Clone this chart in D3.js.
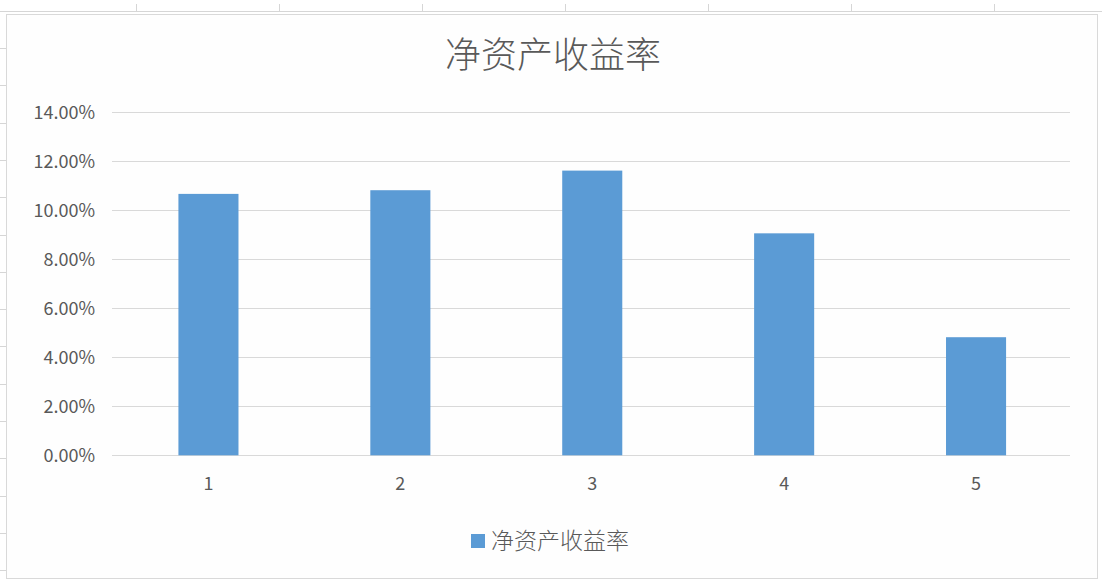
<!DOCTYPE html>
<html>
<head>
<meta charset="utf-8">
<script src="https://cdn.jsdelivr.net/npm/d3@7"></script>
<style>
  html, body { margin: 0; padding: 0; background: #fff; }
  svg { display: block; font-family: "Noto Sans CJK SC", "Noto Sans", sans-serif; }
  .grid line { stroke: #d9d9d9; stroke-width: 1; }
  .sheet line { stroke: #d6d6d6; stroke-width: 1; }
</style>
</head>
<body>
<svg id="canvas"></svg>
<script>
// data
const categories = ['1', '2', '3', '4', '5'];
const roeValues = [0.1067, 0.1082, 0.1162, 0.0906, 0.0482];
const yTicks = [0, 0.02, 0.04, 0.06, 0.08, 0.10, 0.12, 0.14];
const chartTitle = '净资产收益率';
const seriesName = '净资产收益率';

const W = 1102, H = 586;
const svg = d3.select('#canvas').attr('width', W).attr('height', H);

// spreadsheet cells peeking around the chart
const sheet = svg.append('g').classed('sheet', true);
sheet.append('line').attr('x1', 0).attr('x2', W).attr('y1', 11.5).attr('y2', 11.5);
d3.range(136, W, 143).forEach(x => {
  sheet.append('line').attr('x1', Math.round(x) + 0.5).attr('x2', Math.round(x) + 0.5).attr('y1', 4).attr('y2', 11);
});
d3.range(48, H, 37.3).forEach(y => {
  sheet.append('line').attr('x1', 0).attr('x2', 6).attr('y1', Math.round(y) + 0.5).attr('y2', Math.round(y) + 0.5);
});

// chart frame
svg.append('rect')
  .attr('x', 6.5).attr('y', 14.5)
  .attr('width', 1091).attr('height', 564)
  .attr('fill', '#fefefe')
  .attr('stroke', '#d9d9d9');

// scales
const x = d3.scaleBand()
  .domain(categories)
  .range([112.5, 1072])
  .paddingInner(0.687)
  .paddingOuter(0.3435);

const y = d3.scaleLinear()
  .domain([0, 0.14])
  .range([455.3, 112.3]);

// horizontal gridlines
svg.append('g').classed('grid', true)
  .selectAll('line')
  .data(yTicks)
  .join('line')
    .attr('x1', 112).attr('x2', 1070)
    .attr('y1', d => Math.round(y(d)) + 0.5)
    .attr('y2', d => Math.round(y(d)) + 0.5);

// y axis labels
const yAxis = d3.axisLeft(y).tickValues(yTicks).tickFormat(d3.format('.2%')).tickSize(0).tickPadding(0);
svg.append('g')
  .attr('transform', 'translate(95,0)')
  .call(yAxis)
  .call(g => g.select('.domain').remove())
  .call(g => g.selectAll('text')
    .attr('fill', '#595959')
    .attr('font-size', 18)
    .attr('font-family', '"Noto Sans CJK SC", sans-serif'));

// bars
svg.append('g')
  .selectAll('rect')
  .data(roeValues)
  .join('rect')
    .attr('x', (d, i) => x(categories[i]))
    .attr('y', d => y(d))
    .attr('width', x.bandwidth())
    .attr('height', d => y(0) - y(d))
    .attr('fill', '#5b9bd5');

// x axis labels
const xAxis = d3.axisBottom(x).tickSize(0).tickPadding(0);
svg.append('g')
  .attr('transform', 'translate(0,477)')
  .call(xAxis)
  .call(g => g.select('.domain').remove())
  .call(g => g.selectAll('text')
    .attr('fill', '#595959')
    .attr('font-size', 18)
    .attr('font-family', '"Noto Sans CJK SC", sans-serif'));

// title
svg.append('text')
  .attr('x', 553).attr('y', 55)
  .attr('dy', '0.35em')
  .attr('text-anchor', 'middle')
  .attr('font-size', 36)
  .attr('font-weight', 300)
  .attr('fill', '#595959')
  .text(chartTitle);

// legend
const legend = svg.append('g').attr('transform', 'translate(471,534)');
legend.append('rect').attr('width', 14).attr('height', 14).attr('fill', '#5b9bd5');
legend.append('text')
  .attr('x', 20).attr('y', 7)
  .attr('dy', '0.35em')
  .attr('font-size', 23)
  .attr('font-weight', 300)
  .attr('fill', '#595959')
  .text(seriesName);
</script>
</body>
</html>
